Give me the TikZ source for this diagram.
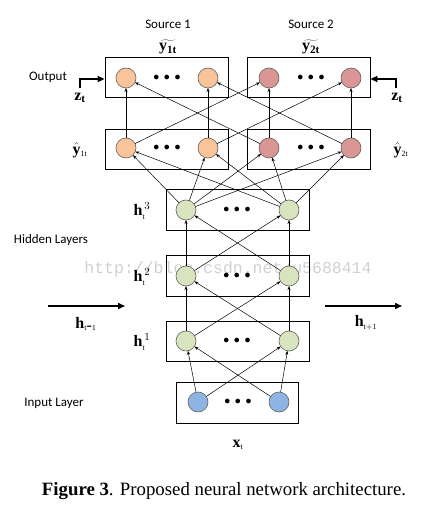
\documentclass[tikz,border=0pt]{standalone}
\usepackage{fontspec}
\setmainfont{Liberation Serif}
\newfontfamily\calib{Carlito}
\newfontfamily\wmfont{Liberation Mono}
\usetikzlibrary{arrows.meta}
\definecolor{orangeN}{HTML}{F9C499}
\definecolor{redN}{HTML}{D99694}
\definecolor{greenN}{HTML}{D7E4BD}
\definecolor{blueN}{HTML}{8EB4E3}
\definecolor{edgeN}{HTML}{606060}
\tikzset{
  layerbox/.style={draw=black, line width=0.8pt, minimum height=40pt, inner sep=0pt},
  neuron/.style={circle, draw=edgeN, line width=0.6pt, minimum size=20pt, inner sep=0pt, outer sep=0pt},
  dotsnode/.style={inner sep=0pt, font=\fontsize{12}{12}\selectfont},
  conn/.style={-{Stealth[length=4pt,width=3pt]}, line width=0.5pt},
  bigarrow/.style={-{Triangle[length=7pt,width=6pt]}, line width=1.5pt},
  sanslabel/.style={font=\calib\fontsize{13}{14}\selectfont, inner sep=1pt},
  mathlabel/.style={font=\fontsize{16}{18}\selectfont, inner sep=0pt},
}
\begin{document}
\begin{tikzpicture}[x=1pt,y=-1pt]
\useasboundingbox (0,0) rectangle (439,518);
% watermark
\node[font=\wmfont\fontsize{16.5}{18}\selectfont, text=black!18, inner sep=0pt] (wm) at (228,269) {http://blog.csdn.net/u5688414};
% boxes
\node[layerbox, minimum width=123pt] (ob1) at (166.5,77) {};
\node[layerbox, minimum width=123pt] (ob2) at (308.5,77) {};
\node[layerbox, minimum width=123pt] (yb1) at (166.5,149) {};
\node[layerbox, minimum width=123pt] (yb2) at (308.5,149) {};
\node[layerbox, minimum width=143pt, minimum height=41pt] (hb3) at (237.5,209.5) {};
\node[layerbox, minimum width=143pt, minimum height=41pt] (hb2) at (237.5,275.5) {};
\node[layerbox, minimum width=143pt, minimum height=40pt] (hb1) at (237.5,341) {};
\node[layerbox, minimum width=122pt, minimum height=41pt] (ib) at (237,402.5) {};
% neurons
\node[neuron, fill=orangeN] (o1a) at (126,78) {};
\node[neuron, fill=orangeN] (o1b) at (208,78) {};
\node[neuron, fill=redN] (o2a) at (269,78) {};
\node[neuron, fill=redN] (o2b) at (351,78) {};
\node[neuron, fill=orangeN] (y1a) at (126,148) {};
\node[neuron, fill=orangeN] (y1b) at (208,148) {};
\node[neuron, fill=redN] (y2a) at (269,148) {};
\node[neuron, fill=redN] (y2b) at (351,148) {};
\node[neuron, fill=greenN] (h3a) at (186,210) {};
\node[neuron, fill=greenN] (h3b) at (289,210) {};
\node[neuron, fill=greenN] (h2a) at (186,276) {};
\node[neuron, fill=greenN] (h2b) at (289,276) {};
\node[neuron, fill=greenN] (h1a) at (186,341) {};
\node[neuron, fill=greenN] (h1b) at (289,341) {};
\node[neuron, fill=blueN] (ia) at (198,402) {};
\node[neuron, fill=blueN] (ib2) at (279,402) {};
% dots
\foreach \n/\x/\y in {d1/167/78, d2/311/78, d3/167/148, d4/311/148, d5/237/210, d6/237/276, d7/237/341, d8/238/402}
  \node[dotsnode] (\n) at (\x,\y) {$\bullet\hspace{2pt}\bullet\hspace{2pt}\bullet$};
% connections
\draw[conn] (y1a) -- (o1a);
\draw[conn] (y1b) -- (o1b);
\draw[conn] (y2a) -- (o2a);
\draw[conn] (y2b) -- (o2b);
\draw[conn] (y1a) -- (o2a);
\draw[conn] (y1b) -- (o2b);
\draw[conn] (y2a) -- (o1a);
\draw[conn] (y2b) -- (o1b);
\foreach \s in {h3a,h3b}
  \foreach \t in {y1a,y1b,y2a,y2b}
    \draw[conn] (\s) -- (\t);
\draw[conn] (h2a) -- (h3a);
\draw[conn] (h2b) -- (h3b);
\draw[conn] (h2a) -- (h3b);
\draw[conn] (h2b) -- (h3a);
\draw[conn] (h1a) -- (h2a);
\draw[conn] (h1b) -- (h2b);
\draw[conn] (h1a) -- (h2b);
\draw[conn] (h1b) -- (h2a);
\draw[conn] (ia) -- (h1a);
\draw[conn] (ib2) -- (h1b);
\draw[conn] (ia) -- (h1b);
\draw[conn] (ib2) -- (h1a);
% z_t arrows
\coordinate (zl) at (80,88);
\coordinate (zr) at (396,88);
\draw[-{Triangle[length=7pt,width=6pt]}, line width=1.6pt] (zl) -- (80,79) -- ([yshift=-2pt]ob1.west);
\draw[-{Triangle[length=7pt,width=6pt]}, line width=1.6pt] (zr) -- (396,79) -- ([yshift=-2pt]ob2.east);
% h arrows
\coordinate (hl1) at (48,306);
\coordinate (hl2) at (125,306);
\coordinate (hr1) at (325,306);
\coordinate (hr2) at (402,306);
\draw[bigarrow] (hl1) -- (hl2);
\draw[bigarrow] (hr1) -- (hr2);
% labels
\node[sanslabel] (s1) at (168,24) {Source 1};
\node[sanslabel] (s2) at (311,24) {Source 2};
\node[sanslabel] (outl) at (48,77) {Output};
\node[sanslabel] (hidl) at (51,240) {Hidden Layers};
\node[sanslabel] (inl) at (54,403) {Input Layer};
\node[mathlabel] (yt1) at (168,47) {$\widetilde{\mathbf{y}_{\mathbf{1t}}}$};
\node[mathlabel] (yt2) at (311,47) {$\widetilde{\mathbf{y}_{\mathbf{2t}}}$};
\node[mathlabel] (zlab1) at (80,98) {$\mathbf{z}_{\mathbf{t}}$};
\node[mathlabel] (zlab2) at (397,98) {$\mathbf{z}_{\mathbf{t}}$};
\node[mathlabel] (yh1) at (80,150) {$\hat{\mathbf{y}}_{\scriptscriptstyle\mathrm{1t}}$};
\node[mathlabel] (yh2) at (401,150) {$\hat{\mathbf{y}}_{\scriptscriptstyle\mathrm{2t}}$};
\node[mathlabel] (lh3) at (142,211) {$\mathbf{h}_{\scriptscriptstyle\mathrm{t}}^{\,3}$};
\node[mathlabel] (lh2) at (142,277) {$\mathbf{h}_{\scriptscriptstyle\mathrm{t}}^{\,2}$};
\node[mathlabel] (lh1) at (142,342) {$\mathbf{h}_{\scriptscriptstyle\mathrm{t}}^{\,1}$};
\node[mathlabel] (lhm) at (86,324) {$\mathbf{h}_{\scriptscriptstyle\mathrm{t}\mbox{-}1}$};
\node[mathlabel] (lhp) at (366,323) {$\mathbf{h}_{\scriptscriptstyle\mathrm{t}+1}$};
\node[mathlabel] (lx) at (238,445) {$\mathbf{x}_{\scriptscriptstyle\mathrm{t}}$};
\node[font=\fontsize{18.8}{20}\selectfont] (cap) at (224,491) {\textbf{Figure 3}. Proposed neural network architecture.};
\end{tikzpicture}
\end{document}
